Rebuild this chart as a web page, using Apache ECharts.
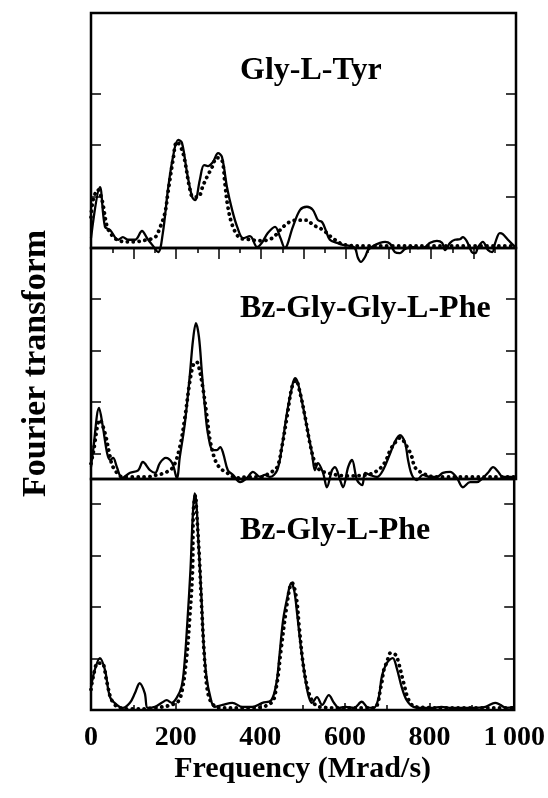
<!DOCTYPE html>
<html>
<head>
<meta charset="utf-8">
<script src="https://cdn.jsdelivr.net/npm/echarts@6/dist/echarts.min.js"></script>
<style>
html,body{margin:0;padding:0;background:#fff;}
#chart{width:548px;height:798px;}
</style>
</head>
<body>
<div id="chart"></div>
<script>
// ---- data (frequency in Mrad/s, Fourier transform in arbitrary units) ----
const panelNames = ['Gly-L-Tyr', 'Bz-Gly-Gly-L-Phe', 'Bz-Gly-L-Phe'];
const xTickLabels = [0, 200, 400, 600, 800, 1000];
const xTitle = 'Frequency (Mrad/s)';
const yTitle = 'Fourier transform';

const topSolidX = [0,21,33,45,64,75,87,104,120,132,144,158,169,181,193,205,214,226,238,245,256,266,275,287,299,308,320,332,344,358,374,391,402,416,433,445,456,475,492,508,522,534,544,553,562,579,593,609,621,628,635,645,652,664,680,692,704,715,727,739,755,769,786,798,814,826,833,845,856,868,875,885,896,904,911,922,934,944,951,962,969,981,993,1000];
const topSolidY = [0.19,1.18,0.41,0.35,0.16,0.21,0.16,0.16,0.33,0.19,0.06,-0.08,0.29,1.13,1.77,2.10,2.04,1.46,0.99,0.93,1.32,1.61,1.59,1.67,1.84,1.77,1.18,0.74,0.41,0.19,0.23,0.02,0.10,0.29,0.41,0.21,0,0.41,0.74,0.80,0.74,0.54,0.50,0.33,0.16,0.10,0.06,0.04,0,-0.19,-0.27,-0.17,-0.04,0.04,0.10,0.12,0.08,-0.08,-0.10,-0.02,0.02,0,0.02,0.10,0.14,0.10,-0.04,0.10,0.16,0.17,0.21,0.12,-0.08,-0.10,0.02,0.12,-0.04,-0.08,0.10,0.29,0.27,0.16,0.06,0];
const topDotX = [0,5,16,26,38,49,61,80,99,132,151,162,174,181,193,202,216,233,240,252,264,273,285,296,308,315,322,334,351,367,400,426,445,464,485,508,522,546,569,598,650,700,800,900,1000];
const topDotY = [0.6,0.93,1.13,0.93,0.41,0.25,0.16,0.12,0.12,0.16,0.21,0.39,0.68,1.07,1.71,2.06,1.86,1.13,0.99,0.99,1.22,1.38,1.57,1.75,1.71,1.26,0.80,0.41,0.19,0.17,0.14,0.19,0.35,0.49,0.54,0.54,0.45,0.35,0.19,0.06,0.04,0.04,0.04,0.04,0.04];

const midSolidX = [0,5,19,28,38,45,52,61,73,92,111,122,139,151,162,176,191,202,209,221,233,240,247,254,261,268,275,287,296,304,311,322,334,351,367,381,398,409,421,438,449,461,473,480,487,499,508,520,527,534,546,555,567,574,586,593,605,614,626,638,645,656,673,687,704,715,727,739,746,755,767,781,798,814,828,845,861,875,892,908,922,934,946,958,969,981,1000];
const midSolidY = [0.23,0.56,1.38,1.01,0.50,0.37,0.41,0.23,0.02,0.12,0.17,0.33,0.17,0.12,0.31,0.41,0.31,0.02,0.43,1.09,2.06,2.70,3.03,2.76,2.06,1.40,0.89,0.56,0.56,0.62,0.50,0.17,0.08,-0.06,0.02,0.14,0.04,0.08,0.04,0.17,0.62,1.28,1.79,1.96,1.86,1.40,1.01,0.50,0.17,0.31,0.12,-0.16,0.17,0.23,-0.02,-0.16,0.23,0.37,-0.02,-0.12,0.12,0.08,0.04,0.17,0.50,0.72,0.85,0.70,0.37,0.08,-0.02,0.08,0.04,0.04,0.12,0.14,0.02,-0.16,-0.06,-0.06,0.02,0.12,0.23,0.14,0.04,0.04,0.04];
const midDotX = [0,5,21,33,45,52,75,99,132,155,174,193,209,221,233,242,249,254,264,273,280,292,304,320,344,367,398,421,438,449,461,473,482,492,504,515,527,539,555,600,649,675,692,704,715,727,744,755,762,779,809,1000];
const midDotY = [0.3,0.50,1.15,0.89,0.43,0.23,0.04,0.04,0.04,0.08,0.12,0.23,0.62,1.20,1.92,2.25,2.27,2.17,1.73,1.20,0.76,0.37,0.21,0.12,0.02,0.04,0.04,0.12,0.23,0.62,1.20,1.79,1.92,1.67,1.20,0.70,0.31,0.17,0.12,0.06,0.08,0.17,0.33,0.56,0.70,0.80,0.62,0.43,0.23,0.12,0.04,0.04];

const botSolidX = [0,9,21,33,45,61,75,92,104,115,127,134,151,167,179,191,202,214,221,228,235,240,245,249,254,261,266,273,282,292,311,334,358,381,405,426,438,445,454,464,473,480,487,496,508,515,522,534,546,562,574,586,602,621,640,652,668,680,687,699,713,722,734,746,762,781,805,828,852,875,899,932,955,967,981,1000];
const botSolidY = [0.45,0.78,1.01,0.78,0.25,0.10,0.04,0.14,0.33,0.52,0.33,0.04,0.06,0.14,0.19,0.14,0.23,0.45,0.91,1.75,2.72,3.69,4.21,4.02,3.24,2.19,1.30,0.64,0.25,0.06,0.10,0.14,0.06,0.06,0.14,0.19,0.52,1.03,1.75,2.19,2.47,2.33,1.88,1.22,0.52,0.25,0.14,0.25,0.10,0.29,0.14,0.04,0.06,0.04,0.16,0.06,0.04,0.25,0.64,0.91,1.01,0.83,0.45,0.19,0.06,0.04,0.04,0.06,0.04,0.04,0.04,0.06,0.14,0.10,0.04,0.06];
const botDotX = [0,5,16,26,38,49,68,99,150,202,214,226,233,240,242,247,249,256,261,268,275,285,304,380,426,438,449,461,471,475,485,492,501,511,522,539,600,668,685,692,699,708,720,727,739,751,767,850,1000];
const botDotY = [0.4,0.64,0.91,0.91,0.52,0.19,0.04,0.02,0.04,0.14,0.33,1.03,1.75,2.72,3.88,4.17,3.94,2.97,2.08,1.03,0.39,0.14,0.04,0.04,0.14,0.45,1.17,1.94,2.43,2.47,2.19,1.61,0.91,0.45,0.19,0.06,0.04,0.04,0.45,0.78,0.93,1.11,1.07,0.91,0.52,0.19,0.06,0.04,0.04];

// panel axis ranges and tick values (arbitrary units)
const panelMax = [4.56, 4.49, 4.49];
const panelTicks = [[1, 2, 3], [0.5, 1.5, 2.5, 3.5], [1, 2, 3, 4]];

// ---- build chart ----
const zip = (xs, ys) => xs.map((x, i) => [x, ys[i]]);
const FONT = '"Liberation Serif", "Times New Roman", serif';
const gridTops = [13, 248, 479];
const gridHeights = [235, 231, 231];

const grids = gridTops.map((t, i) => ({
  left: 91, right: 32, top: t, height: gridHeights[i],
  show: true, borderColor: '#000', borderWidth: 2.5, backgroundColor: 'transparent'
}));

const xAxes = [
  { gridIndex: 0, type: 'value', min: 0, max: 1000, interval: 100, position: 'top',
    axisLine: { show: false }, axisLabel: { show: false }, splitLine: { show: false },
    axisTick: { show: true, inside: true, length: 11, lineStyle: { color: '#000', width: 1.5 } },
    minorTick: { show: true, splitNumber: 2, length: 5, lineStyle: { color: '#000', width: 1.5 } } },
  { gridIndex: 1, type: 'value', min: 0, max: 1000, show: false },
  { gridIndex: 2, type: 'value', min: 0, max: 1000, interval: 200, position: 'bottom',
    axisLine: { show: false }, splitLine: { show: false },
    axisTick: { show: true, inside: true, length: 7, lineStyle: { color: '#000', width: 1.5 } },
    minorTick: { show: true, splitNumber: 2, length: 5, lineStyle: { color: '#000', width: 1.5 } },
    axisLabel: { show: true, customValues: xTickLabels, margin: 14, color: '#000',
      fontFamily: FONT, fontWeight: 'bold', fontSize: 28,
      formatter: v => v >= 1000 ? String(v).replace(/^(\d)(\d{3})$/, '$1\u2009$2') : String(v) },
    name: xTitle, nameLocation: 'middle', nameGap: 44,
    nameTextStyle: { color: '#000', fontFamily: FONT, fontWeight: 'bold', fontSize: 30 } }
];

const yAxes = [];
for (let i = 0; i < 3; i++) {
  ['left', 'right'].forEach(pos => {
    const ax = {
      gridIndex: i, type: 'value', min: 0, max: panelMax[i], position: pos,
      axisLine: { show: false }, axisLabel: { show: false }, splitLine: { show: false },
      axisTick: { show: true, inside: true, length: 10, customValues: panelTicks[i],
        lineStyle: { color: '#000', width: 1.5 } }
    };
    if (i === 1 && pos === 'left') {
      ax.name = yTitle; ax.nameLocation = 'middle'; ax.nameGap = 38;
      ax.nameTextStyle = { color: '#000', fontFamily: FONT, fontWeight: 'bold', fontSize: 34 };
    }
    yAxes.push(ax);
  });
}

const solidStyle = { color: '#000', width: 2.3, type: 'solid', join: 'round' };
const dotStyle = { color: '#000', width: 3.8, type: [0.1, 5.8], cap: 'round' };
function lineSeries(xi, yi, data, style) {
  return { type: 'line', xAxisIndex: xi, yAxisIndex: yi, data: data, showSymbol: false,
    symbol: 'none', smooth: 0.35, clip: false, lineStyle: style, silent: true, z: 3 };
}
const series = [
  lineSeries(0, 0, zip(topSolidX, topSolidY), solidStyle),
  lineSeries(0, 0, zip(topDotX, topDotY), dotStyle),
  lineSeries(1, 2, zip(midSolidX, midSolidY), solidStyle),
  lineSeries(1, 2, zip(midDotX, midDotY), dotStyle),
  lineSeries(2, 4, zip(botSolidX, botSolidY), solidStyle),
  lineSeries(2, 4, zip(botDotX, botDotY), dotStyle)
];

const labelTops = [55, 293, 515];
const titles = panelNames.map((n, i) => ({
  text: n, left: 240, top: labelTops[i], padding: 0,
  textStyle: { color: '#000', fontFamily: FONT, fontWeight: 'bold', fontSize: 32 }
}));

const chart = echarts.init(document.getElementById('chart'), null, { renderer: 'canvas' });
chart.setOption({
  animation: false,
  backgroundColor: '#fff',
  title: titles,
  grid: grids,
  xAxis: xAxes,
  yAxis: yAxes,
  series: series
});
</script>
</body>
</html>
